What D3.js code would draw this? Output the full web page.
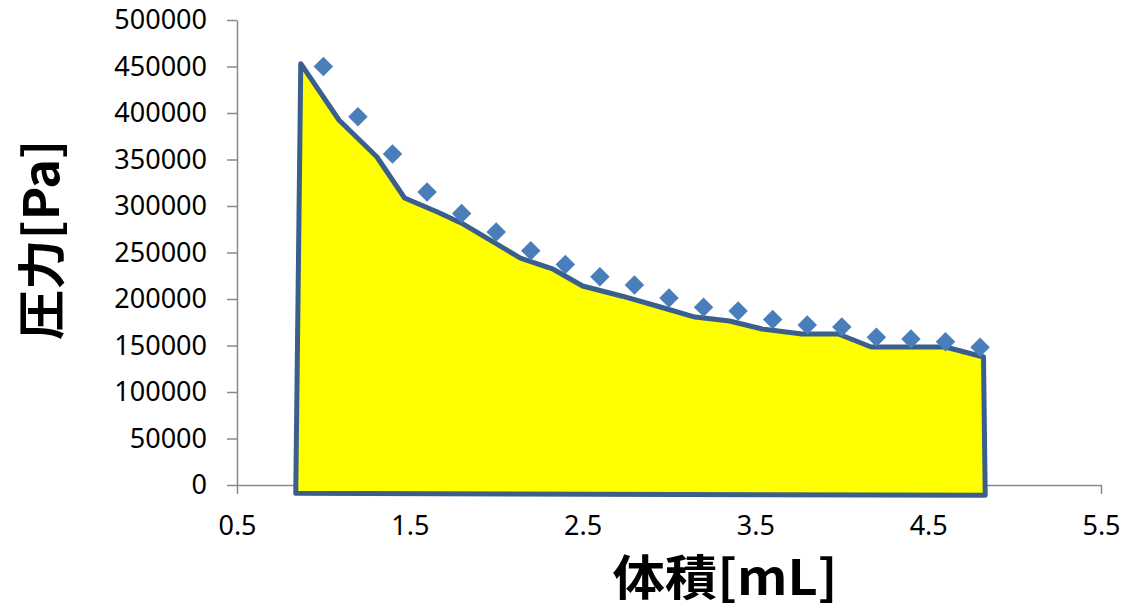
<!DOCTYPE html>
<html>
<head>
<meta charset="utf-8">
<script src="https://cdn.jsdelivr.net/npm/d3@7/dist/d3.min.js"></script>
<style>
  html, body { margin: 0; padding: 0; background: #ffffff; }
  svg { display: block; }
</style>
</head>
<body>
<svg id="chart" width="1123" height="606"></svg>
<script>
// ---- data ----
// measured pressure points (diamond markers)
const volumes = [1.0, 1.2, 1.4, 1.6, 1.8, 2.0, 2.2, 2.4, 2.6, 2.8, 3.0, 3.2, 3.4, 3.6, 3.8, 4.0, 4.2, 4.4, 4.6, 4.8];
const pressures = [450000, 396000, 356000, 315000, 292000, 272000, 252000, 237000, 224000, 215000, 201000, 191000, 187000, 178000, 172000, 170000, 159000, 157000, 154000, 148000];

// outline of the yellow work area (closed shape)
const areaX = [0.84, 0.869, 1.09, 1.31, 1.47, 1.66, 1.80, 2.14, 2.33, 2.50, 2.73, 2.95, 3.15, 3.35, 3.54, 3.77, 3.98, 4.17, 4.60, 4.82, 4.83];
const areaY = [-9000, 453000, 392500, 352700, 308600, 293500, 281500, 244000, 232000, 214000, 203000, 191400, 180600, 176300, 167700, 162400, 162400, 148400, 148400, 137600, -11000];

const xTicks = [0.5, 1.5, 2.5, 3.5, 4.5, 5.5];
const yTicks = [0, 50000, 100000, 150000, 200000, 250000, 300000, 350000, 400000, 450000, 500000];

const xTitle = "体積[mL]";
const yTitle = "圧力[Pa]";

// ---- drawing ----
const svg = d3.select("#chart");
const x = d3.scaleLinear().domain([0.5, 5.5]).range([237, 1101]);
const y = d3.scaleLinear().domain([0, 500000]).range([485, 20]);

const axisColor = "#898989";
const labelFont = "'Noto Sans', 'Open Sans', sans-serif";

// area polygon
const pts = areaX.map((v, i) => [v, areaY[i]]);
const line = d3.line().x(d => x(d[0])).y(d => y(d[1]));

// axes
const gy = svg.append("g")
  .attr("transform", `translate(${x(0.5)},0)`)
  .call(d3.axisLeft(y).tickValues(yTicks).tickSize(10).tickSizeOuter(0).tickPadding(20).tickFormat(d3.format("d")));
const gx = svg.append("g")
  .attr("transform", `translate(0,${y(0)})`)
  .call(d3.axisBottom(x).tickValues(xTicks).tickSize(9).tickSizeOuter(0).tickPadding(22).tickFormat(d3.format(".1f")));

[gx, gy].forEach(g => {
  g.selectAll("path.domain").attr("stroke", axisColor).attr("stroke-width", 1.5);
  g.selectAll(".tick line").attr("stroke", axisColor).attr("stroke-width", 1.5);
  g.selectAll(".tick text")
    .attr("fill", "#000")
    .style("font-family", labelFont)
    .style("font-size", "27px");
});

svg.append("path")
  .datum(pts)
  .attr("d", d => line(d) + "Z")
  .attr("fill", "#ffff00")
  .attr("stroke", "#3a5f8c")
  .attr("stroke-width", 5)
  .attr("stroke-linejoin", "round");

// diamonds
const diamond = d3.symbol().type(d3.symbolSquare).size(190);
svg.append("g").selectAll("path")
  .data(volumes.map((v, i) => [v, pressures[i]]))
  .join("path")
  .attr("d", diamond)
  .attr("transform", d => `translate(${x(d[0])},${y(d[1])}) rotate(45)`)
  .attr("fill", "#4a7ebb");

// axis titles
svg.append("text")
  .attr("x", 725)
  .attr("y", 595)
  .attr("text-anchor", "middle")
  .attr("textLength", 225)
  .attr("lengthAdjust", "spacingAndGlyphs")
  .style("font-family", "'Noto Sans CJK JP', sans-serif")
  .style("font-weight", "bold")
  .style("font-size", "48px")
  .text(xTitle);

svg.append("text")
  .attr("transform", "translate(42,240) rotate(-90)")
  .attr("text-anchor", "middle")
  .attr("dy", "0.36em")
  .attr("textLength", 200)
  .attr("lengthAdjust", "spacingAndGlyphs")
  .style("font-family", "'Noto Sans CJK JP', sans-serif")
  .style("font-weight", "bold")
  .style("font-size", "48px")
  .text(yTitle);
</script>
</body>
</html>
